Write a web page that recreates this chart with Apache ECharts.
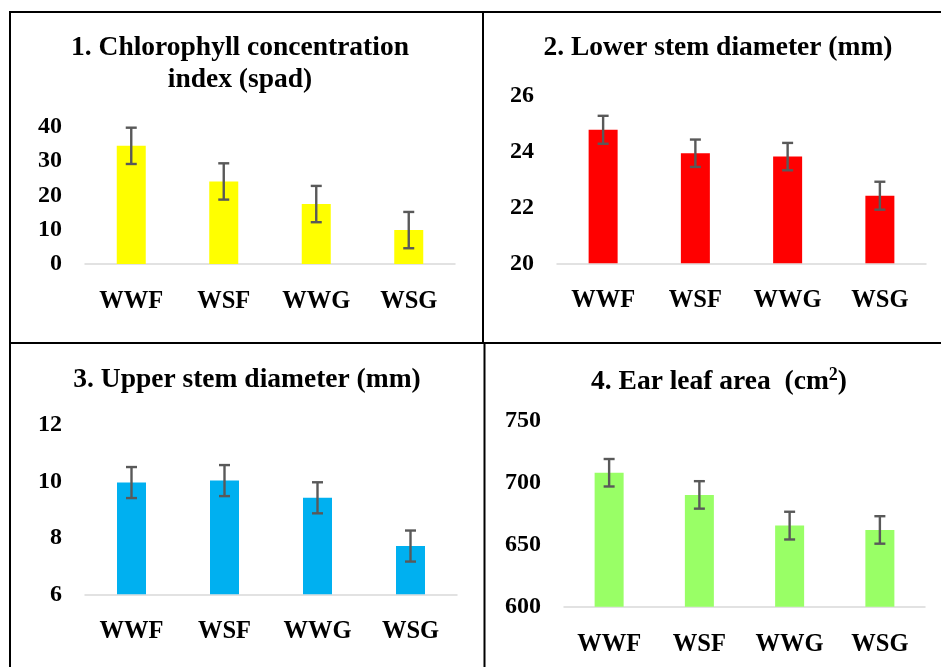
<!DOCTYPE html>
<html>
<head>
<meta charset="utf-8">
<script src="https://cdn.jsdelivr.net/npm/echarts@6/dist/echarts.min.js"></script>
<style>
  html, body { margin: 0; padding: 0; background: #fff; }
  #chart { width: 941px; height: 667px; }
</style>
</head>
<body>
<div id="chart"></div>
<script>
const categories = ['WWF', 'WSF', 'WWG', 'WSG'];

const chlorophyll = [34.5, 24.1, 17.5, 9.9];
const chlorophyllErr = [5.3, 5.3, 5.3, 5.3];
const chlorophyllTicks = { min: 0, max: 40, interval: 10 };

const lowerStem = [24.78, 23.94, 23.82, 22.42];
const lowerStemErr = [0.5, 0.49, 0.49, 0.5];
const lowerStemTicks = { min: 20, max: 26, interval: 2 };

const upperStem = [9.96, 10.03, 9.42, 7.71];
const upperStemErr = [0.55, 0.55, 0.55, 0.55];
const upperStemTicks = { min: 6, max: 12, interval: 2 };

const earLeaf = [708.2, 690.3, 665.5, 662.0];
const earLeafErr = [11.1, 11.1, 11.2, 11.1];
const earLeafTicks = { min: 600, max: 750, interval: 50 };

const FONT = '"Liberation Serif", "Times New Roman", serif';

const panels = [
  { values: chlorophyll, errs: chlorophyllErr, ticks: chlorophyllTicks, color: '#FFFF00',
    grid: { left: 85, top: 127, width: 370, height: 137 } },
  { values: lowerStem, errs: lowerStemErr, ticks: lowerStemTicks, color: '#FF0000',
    grid: { left: 557, top: 95.7, width: 369, height: 167.6 } },
  { values: upperStem, errs: upperStemErr, ticks: upperStemTicks, color: '#00B0F0',
    grid: { left: 85, top: 425, width: 372, height: 169.3 } },
  { values: earLeaf, errs: earLeafErr, ticks: earLeafTicks, color: '#99FF66',
    grid: { left: 564, top: 421, width: 361, height: 185.7 } }
];

const titleStyle = { fontFamily: FONT, fontWeight: 'bold', fontSize: 27.5, color: '#000', lineHeight: 32 };

const titles = [
  { text: '1. Chlorophyll concentration\nindex (spad)', left: 240, top: 32 },
  { text: '2. Lower stem diameter (mm)', left: 718, top: 32 },
  { text: '3. Upper stem diameter (mm)', left: 247, top: 364 },
  { text: '4. Ear leaf area  (cm{sup|2})', left: 719, top: 366 }
].map(t => ({
  text: t.text, left: t.left, top: t.top, textAlign: 'center', padding: 0,
  textStyle: Object.assign({}, titleStyle, {
    rich: { sup: { fontFamily: FONT, fontWeight: 'bold', fontSize: 18, color: '#000', verticalAlign: 'top', lineHeight: 20 } }
  })
}));

function errorRender(params, api) {
  const x = api.value(0), m = api.value(1), e = api.value(2);
  const hi = api.coord([x, m + e]);
  const lo = api.coord([x, m - e]);
  const cap = 5.5;
  const style = { stroke: '#595959', lineWidth: 2.4 };
  return {
    type: 'group',
    children: [
      { type: 'line', shape: { x1: hi[0], y1: hi[1], x2: lo[0], y2: lo[1] }, style },
      { type: 'line', shape: { x1: hi[0] - cap, y1: hi[1], x2: hi[0] + cap, y2: hi[1] }, style },
      { type: 'line', shape: { x1: lo[0] - cap, y1: lo[1], x2: lo[0] + cap, y2: lo[1] }, style }
    ]
  };
}

const option = {
  backgroundColor: '#fff',
  animation: false,
  title: titles,
  grid: panels.map(p => Object.assign({ containLabel: false }, p.grid)),
  xAxis: panels.map((p, i) => ({
    type: 'category', gridIndex: i, data: categories,
    axisLine: { lineStyle: { color: '#d9d9d9', width: 1.5 } },
    axisTick: { show: false },
    axisLabel: { fontFamily: FONT, fontWeight: 'bold', fontSize: 24.5, color: '#000', margin: 25 }
  })),
  yAxis: panels.map((p, i) => ({
    type: 'value', gridIndex: i, min: p.ticks.min, max: p.ticks.max, interval: p.ticks.interval,
    splitLine: { show: false },
    axisLine: { show: false }, axisTick: { show: false },
    axisLabel: { fontFamily: FONT, fontWeight: 'bold', fontSize: 24, color: '#000', margin: 23 }
  })),
  series: panels.flatMap((p, i) => [
    { type: 'bar', xAxisIndex: i, yAxisIndex: i, data: p.values, barWidth: 29,
      itemStyle: { color: p.color } },
    { type: 'custom', xAxisIndex: i, yAxisIndex: i, renderItem: errorRender, z: 5,
      data: categories.map((c, j) => [j, p.values[j], p.errs[j]]) }
  ]),
  graphic: [
    { type: 'line', shape: { x1: 9, y1: 12, x2: 941, y2: 12 }, style: { stroke: '#000', lineWidth: 2 } },
    { type: 'line', shape: { x1: 10, y1: 12, x2: 10, y2: 667 }, style: { stroke: '#000', lineWidth: 2 } },
    { type: 'line', shape: { x1: 483, y1: 12, x2: 483, y2: 343 }, style: { stroke: '#000', lineWidth: 2 } },
    { type: 'line', shape: { x1: 10, y1: 343, x2: 941, y2: 343 }, style: { stroke: '#000', lineWidth: 2 } },
    { type: 'line', shape: { x1: 484.5, y1: 343, x2: 484.5, y2: 667 }, style: { stroke: '#000', lineWidth: 2 } }
  ]
};

const chart = echarts.init(document.getElementById('chart'), null, { renderer: 'canvas' });
chart.setOption(option);
</script>
</body>
</html>
